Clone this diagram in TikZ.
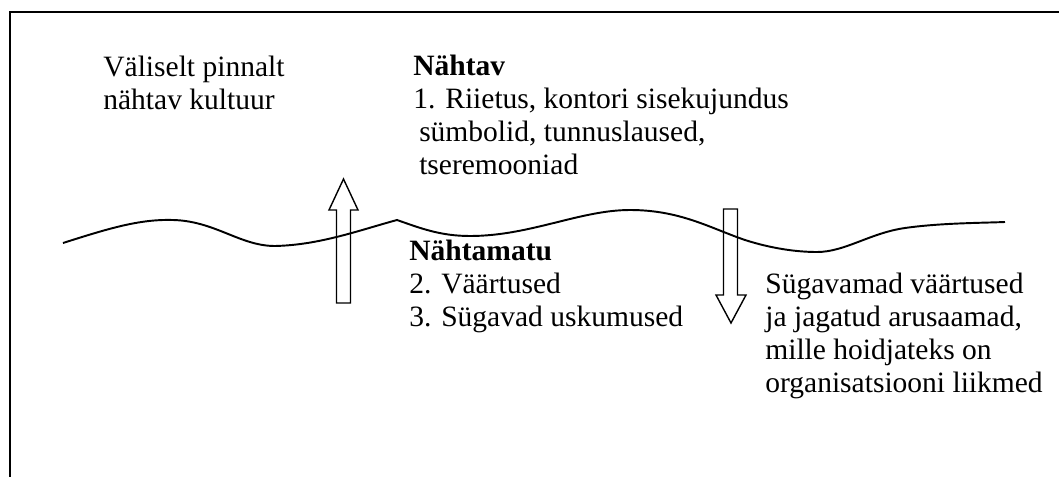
\documentclass[tikz,border=0pt]{standalone}
\usepackage{fontspec}
\setmainfont{Liberation Serif}
\usepackage{tikz}

\begin{document}
\begin{tikzpicture}[x=0.02cm,y=-0.02cm,
  every node/.style={font=\fontsize{16.8pt}{18.7pt}\selectfont,align=left,inner sep=0pt,anchor=base west},
  blockarrow/.style={draw,line width=0.8pt}]
\useasboundingbox (0,0) rectangle (1059,477);
\draw[line width=1.2pt] (1059,12) -- (10,12) -- (10,477);
% water line
\draw[line width=1.1pt] (63,243) .. controls (110,228) and (140,219) .. (173,220)
  .. controls (215,221) and (240,246) .. (275,246) .. controls (320,245) and (360,230) .. (397,220)
  .. controls (420,228) and (440,236) .. (470,236) .. controls (530,236) and (580,210) .. (630,210)
  .. controls (680,210) and (710,228) .. (745,240) .. controls (770,248) and (795,252) .. (817,252)
  .. controls (845,252) and (870,233) .. (905,228) .. controls (940,223) and (980,223) .. (1005,222);
% up and down arrows
\draw[blockarrow] (336.5,303) -- (336.5,210) -- (329,210) -- (343.5,179) -- (358,210)
  -- (350.5,210) -- (350.5,303) -- cycle;
\draw[blockarrow] (723.5,209) -- (723.5,295) -- (716,295) -- (731,323) -- (746,295)
  -- (737.5,295) -- (737.5,209) -- cycle;
% texts (placed at the baseline of their last line)
\node (outer) at (103,109) {Väliselt pinnalt\\nähtav kultuur};
\node (seen) at (413,174) {\textbf{Nähtav}\\1. Riietus, kontori sisekujundus\\
  \hspace*{0.2em}sümbolid, tunnuslaused,\\\hspace*{0.2em}tseremooniad};
\node (unseen) at (409,326) {\textbf{Nähtamatu}\\2. Väärtused\\3. Sügavad uskumused};
\node (deep) at (765,392) {Sügavamad väärtused\\ja jagatud arusaamad,\\mille hoidjateks on\\organisatsiooni liikmed};
\end{tikzpicture}
\end{document}
